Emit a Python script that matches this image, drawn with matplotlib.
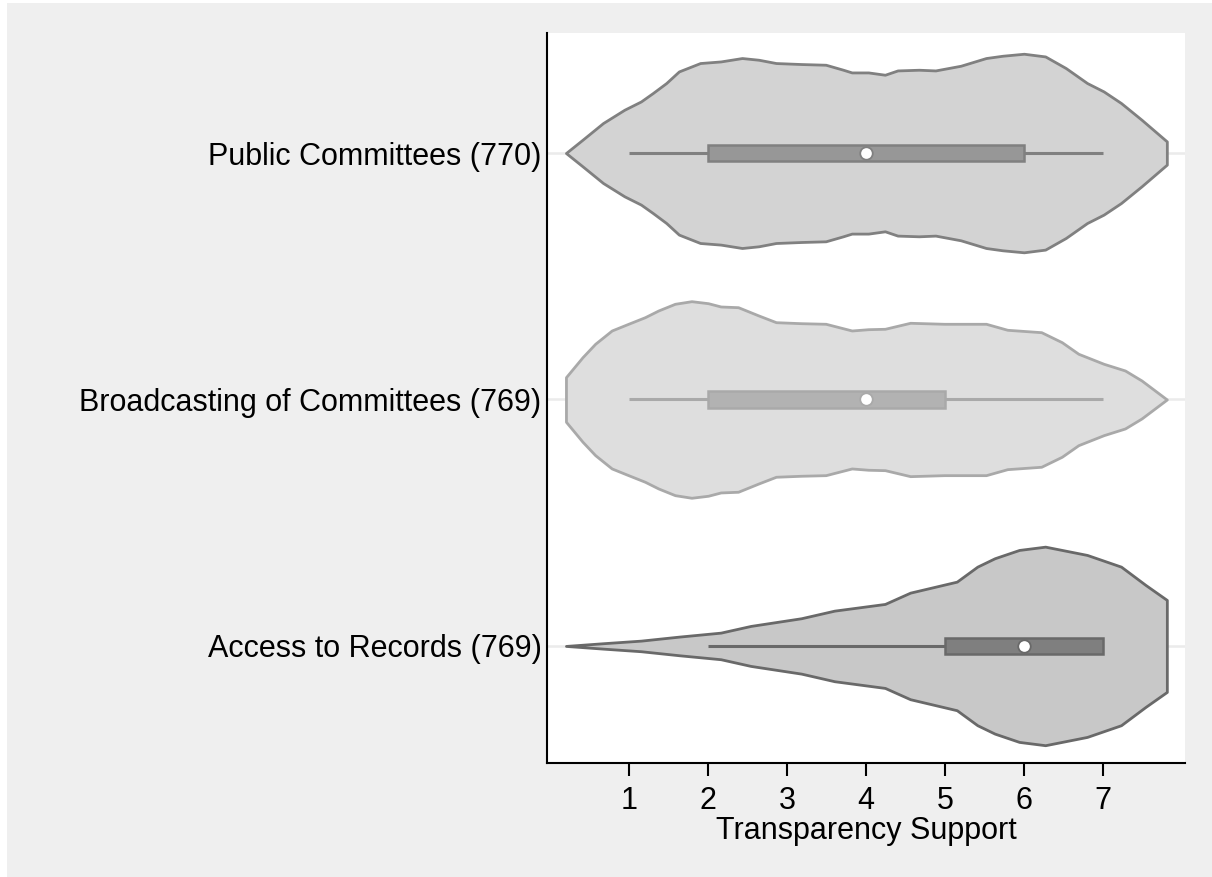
import matplotlib
matplotlib.use("Agg")
import matplotlib.pyplot as plt
from matplotlib.patches import Rectangle
import numpy as np

plt.rcParams['font.family'] = ['Liberation Sans', 'DejaVu Sans']

# ---- data ----
categories = ["Public Committees (770)", "Broadcasting of Committees (769)", "Access to Records (769)"]

# violin outline: x value and relative density (half-width)
public_x = [0.20, 0.41, 0.67, 0.94, 1.15, 1.30, 1.47, 1.63, 1.90, 2.16, 2.43, 2.64, 2.86, 3.18, 3.49,
            3.71, 3.82, 4.03, 4.24, 4.40, 4.67, 4.88, 5.20, 5.52, 5.73, 6.00, 6.27, 6.53, 6.80, 7.01,
            7.23, 7.49, 7.81]
public_d = [0.0, 13.3, 30.0, 43.3, 51.6, 60.0, 70.0, 81.6, 90.0, 91.6, 95.0, 93.3, 90.0, 89.0, 88.3,
            83.3, 80.6, 80.6, 78.3, 82.6, 83.3, 82.6, 87.3, 95.0, 97.3, 99.3, 96.6, 85.0, 70.0, 61.6,
            50.0, 33.3, 11.6]

broad_x = [0.20, 0.41, 0.57, 0.78, 0.99, 1.20, 1.37, 1.58, 1.79, 2.00, 2.16, 2.38, 2.64, 2.86, 3.18,
           3.49, 3.82, 4.03, 4.24, 4.56, 4.99, 5.52, 5.79, 6.22, 6.48, 6.69, 7.01, 7.28, 7.49, 7.81]
broad_d = [22.3, 42.3, 55.7, 69.0, 75.7, 82.3, 89.0, 95.7, 98.3, 96.3, 93.0, 92.3, 84.0, 77.3, 76.3,
           75.7, 69.0, 70.3, 70.7, 76.7, 75.7, 75.7, 69.7, 67.3, 57.3, 45.7, 35.7, 29.0, 19.0, 0.0]

access_x = [0.20, 0.67, 1.15, 1.63, 2.16, 2.54, 3.18, 3.60, 4.24, 4.56, 5.15, 5.41, 5.63, 5.94, 6.27,
            6.80, 7.23, 7.54, 7.81]
access_d = [0.0, 2.7, 5.3, 9.3, 13.3, 20.0, 27.7, 35.3, 42.0, 53.3, 64.3, 79.3, 87.7, 96.0, 99.3,
            91.0, 79.3, 61.0, 46.0]

# box summaries: whisker low, q1, median, q3, whisker high
public_box = [1, 2, 4, 6, 7]
broad_box = [1, 2, 4, 5, 7]
access_box = [2, 5, 6, 7, 7]

xticks = [1, 2, 3, 4, 5, 6, 7]
xlabel = "Transparency Support"

# ---- styles ----
width_scale = 1 / 246.5
fills = ["#D3D3D3", "#DEDEDE", "#C8C8C8"]
edges = ["#808080", "#A9A9A9", "#696969"]
boxfills = ["#979797", "#B2B2B2", "#7F7F7F"]

fig = plt.figure(figsize=(12.12, 8.77), dpi=100, facecolor="white")
fig.patches.append(Rectangle((7 / 1212, 0), 1 - 7 / 1212, 874 / 877, transform=fig.transFigure,
                             facecolor="#EFEFEF", edgecolor="none", zorder=-10))
ax = fig.add_axes([547 / 1212, (877 - 763) / 877, (1185 - 547) / 1212, (763 - 33) / 877])
ax.set_facecolor("white")

outlines = [(public_x, public_d), (broad_x, broad_d), (access_x, access_d)]
boxes = [public_box, broad_box, access_box]

for i, ((xs, ds), bx) in enumerate(zip(outlines, boxes)):
    ax.axhline(i, color="#EBEBEB", lw=1.8, zorder=0)
    xs = np.array(xs)
    ws = np.array(ds) * width_scale
    ax.fill_between(xs, i - ws, i + ws, facecolor=fills[i], edgecolor=edges[i], lw=2.0, zorder=2)
    lo, q1, med, q3, hi = bx
    ax.plot([lo, hi], [i, i], color=edges[i], lw=2.2, zorder=3, solid_capstyle="butt")
    ax.add_patch(Rectangle((q1, i - 0.034), q3 - q1, 0.068, facecolor=boxfills[i],
                           edgecolor=edges[i], lw=1.8, zorder=4))
    ax.plot([med], [i], marker="o", ms=9, mfc="white", mec=edges[i], mew=1.3, zorder=5)

ax.set_xlim(-0.04, 8.04)
ax.set_ylim(2.475, -0.487)
ax.set_yticks(range(len(categories)))
ax.set_yticklabels(categories, fontsize=22)
ax.set_xticks(xticks)
ax.set_xticklabels([str(t) for t in xticks], fontsize=22)
ax.tick_params(axis="y", length=0, pad=4)
ax.tick_params(axis="x", length=9.5, width=1.5, pad=7, color="black")
ax.set_xlabel(xlabel, fontsize=22, labelpad=0)

for s in ["top", "right"]:
    ax.spines[s].set_visible(False)
for s in ["left", "bottom"]:
    ax.spines[s].set_linewidth(1.5)
    ax.spines[s].set_color("black")

fig.savefig("out.png", dpi=100, facecolor="white")
